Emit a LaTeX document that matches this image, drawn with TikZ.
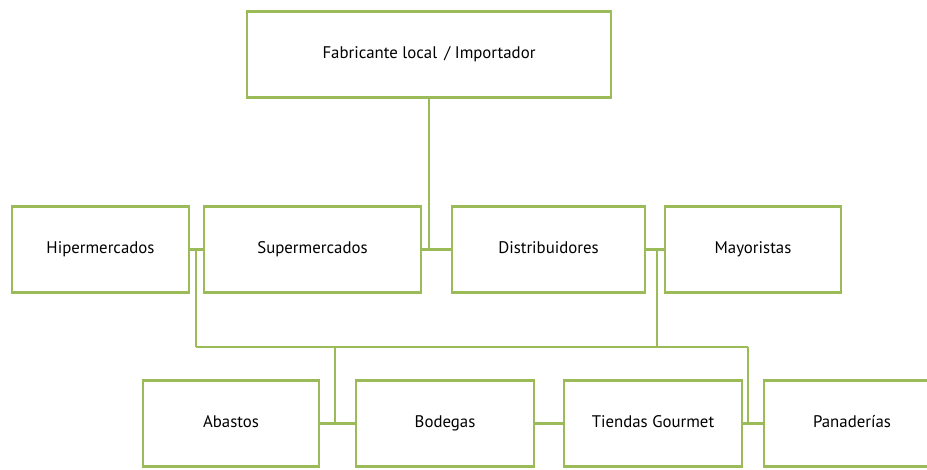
\documentclass[tikz,border=0pt]{standalone}
\usepackage{fontspec}
\setmainfont{PT Sans}
\usepackage{tikz}
\usetikzlibrary{positioning}

\definecolor{olive}{RGB}{155,187,89}

\begin{document}
\begin{tikzpicture}[x=0.75pt,y=-0.75pt,line width=2.2pt,
    box/.style={draw=olive,fill=white,minimum height=65pt,text height=1.6ex,text depth=.4ex,font=\fontsize{12.6}{15}\selectfont},
    link/.style={draw=olive}]
    \useasboundingbox (0,0) rectangle (927,470);
    % boxes
    \node[box,minimum width=273pt] (fab) at (429,54.5) {Fabricante local\, / Importador};
    \node[box,minimum width=132.75pt] (hiper) at (100.5,249.5) {Hipermercados};
    \node[box,minimum width=162.75pt] (super) at (312.5,249.5) {Supermercados};
    \node[box,minimum width=144.75pt] (distrib) at (548.5,249.5) {Distribuidores};
    \node[box,minimum width=132pt] (mayor) at (753,249.5) {Mayoristas};
    \node[box,minimum width=132pt] (abastos) at (231,423.5) {Abastos};
    \node[box,minimum width=133.5pt] (bodegas) at (445,423.5) {Bodegas};
    \node[box,minimum width=133.5pt] (tiendas) at (653,423.5) {Tiendas Gourmet};
    \node[box,minimum width=132pt] (panad) at (852,423.5) {Panaderías};
    % junctions
    \coordinate (jl) at (196,347);
    \coordinate (jr) at (748,347);
    \coordinate (jm) at (657,347);
    \coordinate (jb) at (335,347);
    % connectors
    \path[link] (fab.south) -- (fab.south |- super.east)
                (super.east) -- (distrib.west)
                (hiper.east) -- (super.west)
                (distrib.east) -- (mayor.west)
                (jl) -- (jl |- hiper.east)
                (jm) -- (jm |- mayor.west)
                (jl) -- (jr)
                (jb) -- (jb |- abastos.east)
                (jr) -- (jr |- tiendas.east)
                (abastos.east) -- (bodegas.west)
                (bodegas.east) -- (tiendas.west)
                (tiendas.east) -- (panad.west);
\end{tikzpicture}
\end{document}
